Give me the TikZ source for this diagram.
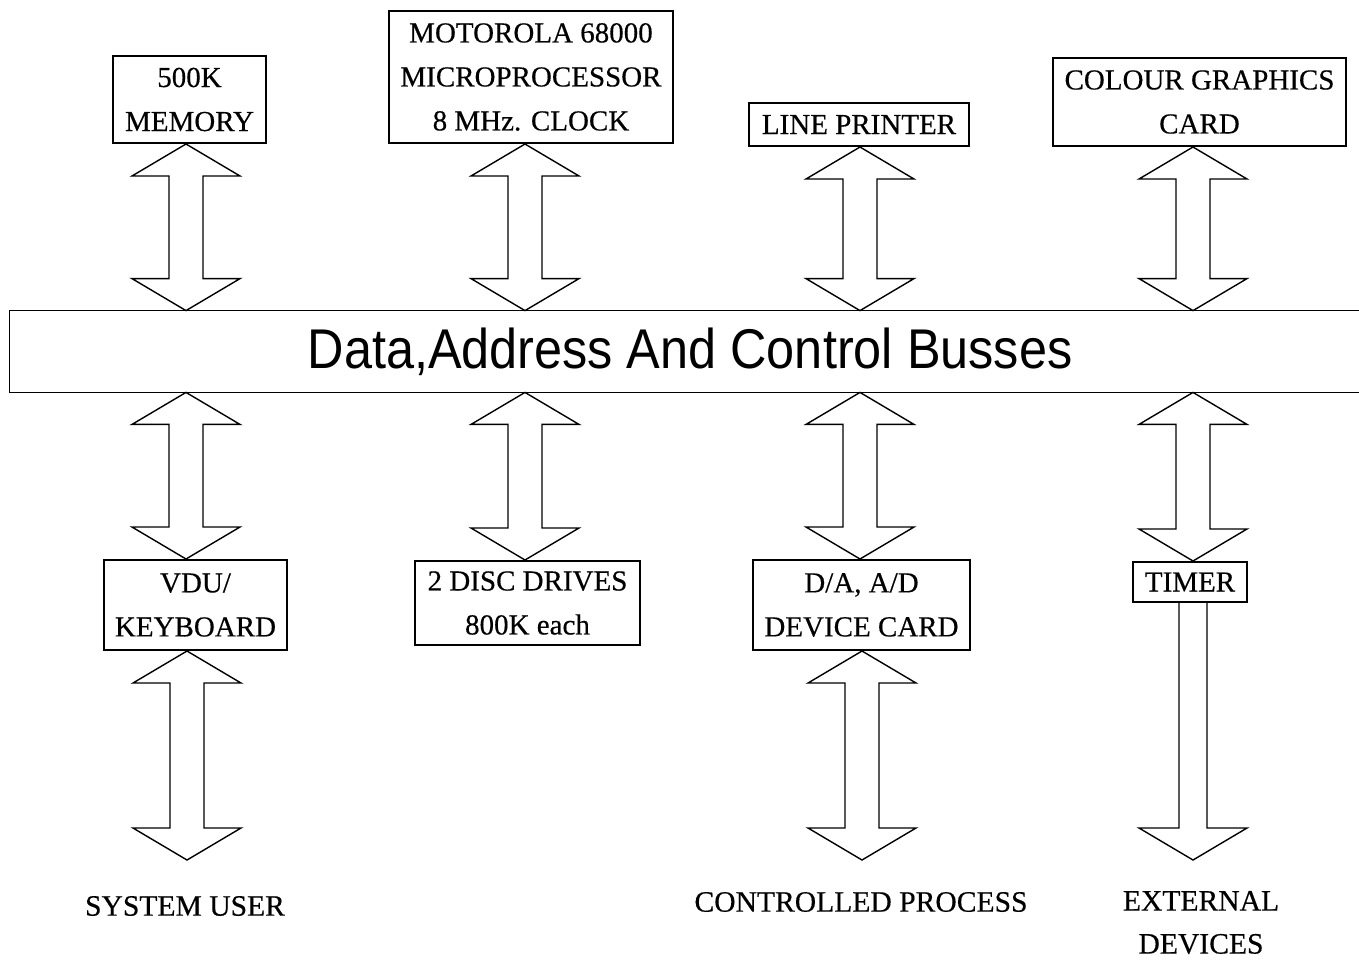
\documentclass[tikz,border=0pt]{standalone}
\usepackage{fontspec}
\usepackage{graphicx}
\setmainfont[FakeBold=0.4]{Liberation Serif}
\newfontfamily\busfont{Liberation Sans}
\usetikzlibrary{calc}
\newcommand\dblarr[2]{\draw[arr] let \p1=#1, \p2=#2 in
  (\x1,\y1) -- (\x1-27pt,\y1-16pt) -- (\x1-8.5pt,\y1-16pt) -- (\x1-8.5pt,\y2+16pt) -- (\x1-27pt,\y2+16pt) -- (\x1,\y2)
  -- (\x1+27pt,\y2+16pt) -- (\x1+8.5pt,\y2+16pt) -- (\x1+8.5pt,\y1-16pt) -- (\x1+27pt,\y1-16pt) -- cycle;}
\newcommand\sglarr[2]{\draw[arr] let \p1=#1, \p2=#2 in
  (\x1-7pt,\y1) -- (\x1-7pt,\y2+16pt) -- (\x1-27pt,\y2+16pt) -- (\x1,\y2)
  -- (\x1+27pt,\y2+16pt) -- (\x1+7pt,\y2+16pt) -- (\x1+7pt,\y1);}
\begin{document}
\begin{tikzpicture}[x=0.5pt,y=-0.5pt,
  box/.style={draw, line width=1pt, align=center, inner sep=0pt, font=\fontsize{14.5}{22}\selectfont},
  lbl/.style={align=center, inner sep=0pt, font=\fontsize{14.8}{21.5}\selectfont},
  arr/.style={draw, line width=0.7pt, line join=miter},
  busline/.style={draw, line width=0.8pt}]
\useasboundingbox (0,0) rectangle (1359,960);
% columns
\coordinate (c1) at (186,0);
\coordinate (c2) at (525,0);
\coordinate (c3) at (860,0);
\coordinate (c4) at (1193,0);
% boxes
\node[box, minimum width=76.5pt, minimum height=43.5pt] (mem) at (189.5,99.5) {500K\\MEMORY};
\node[box, minimum width=142pt, minimum height=66pt] (cpu) at (531,77) {MOTOROLA 68000\\MICROPROCESSOR\\8 MHz. CLOCK};
\node[box, minimum width=110pt, minimum height=21.5pt] (lp) at (859,124.5) {LINE PRINTER};
\node[box, minimum width=146.5pt, minimum height=44pt] (cg) at (1199.5,102) {COLOUR GRAPHICS\\CARD};
\node[box, minimum width=91.5pt, minimum height=45pt] (vdu) at (195.5,605) {VDU/\\KEYBOARD};
\node[box, minimum width=112.5pt, minimum height=42pt] (disc) at (527.5,603) {2 DISC DRIVES\\800K each};
\node[box, minimum width=108.5pt, minimum height=45pt] (da) at (861.5,605) {D/A, A/D\\DEVICE CARD};
\node[box, minimum width=57pt, minimum height=20pt] (timer) at (1190,582) {TIMER};
% bus
\node[minimum width=677.5pt, minimum height=40.5pt, inner sep=0pt] (bus) at (687.5,351.5) {};
\path[busline] (bus.north east) -- (bus.north west) -- (bus.south west) -- (bus.south east);
\node[font=\busfont\fontsize{28}{30}\selectfont] (bustext) at (690,352) {\scalebox{0.9}[1]{Data,Address And Control Busses}};
% labels
\node[lbl] (user) at (185,906) {SYSTEM USER};
\node[lbl] (proc) at (861,902) {CONTROLLED PROCESS};
\node[lbl] (ext) at (1201,922.5) {EXTERNAL\\DEVICES};
\coordinate (e1) at (187,860);
\coordinate (e3) at (862,860);
\coordinate (e4) at (1193,860);
% arrows above bus
\dblarr{(mem.south -| c1)}{(bus.north -| c1)}
\dblarr{(cpu.south -| c2)}{(bus.north -| c2)}
\dblarr{(lp.south -| c3)}{(bus.north -| c3)}
\dblarr{(cg.south -| c4)}{(bus.north -| c4)}
% arrows below bus
\dblarr{(bus.south -| c1)}{(vdu.north -| c1)}
\dblarr{(bus.south -| c2)}{(disc.north -| c2)}
\dblarr{(bus.south -| c3)}{(da.north -| c3)}
\dblarr{(bus.south -| c4)}{(timer.north -| c4)}
% to outside
\dblarr{(vdu.south -| e1)}{(e1)}
\dblarr{(da.south -| e3)}{(e3)}
\sglarr{(timer.south -| e4)}{(e4)}
\end{tikzpicture}
\end{document}
